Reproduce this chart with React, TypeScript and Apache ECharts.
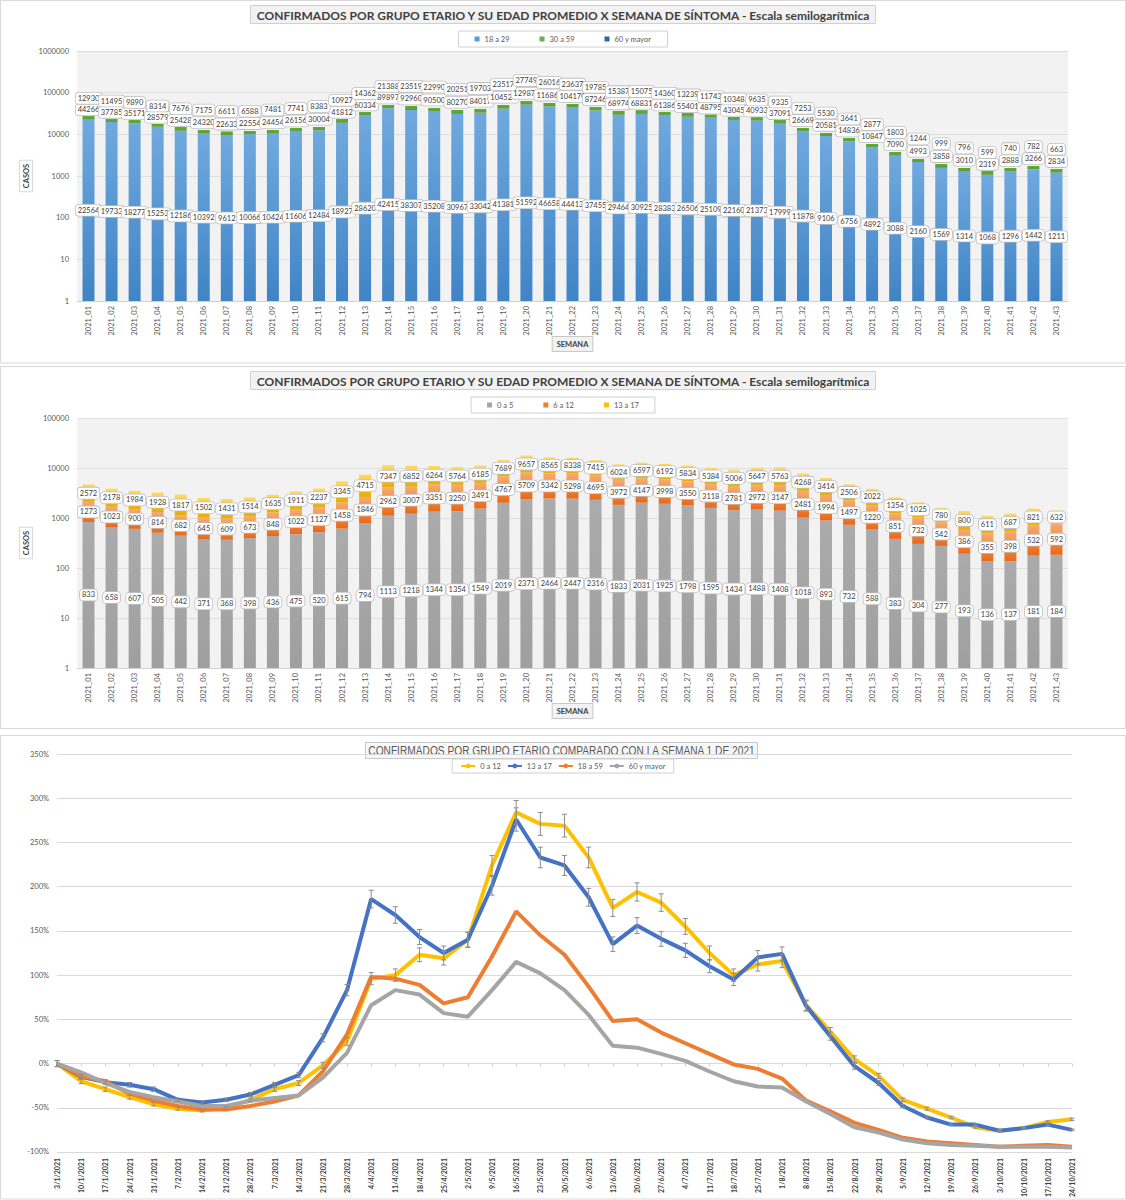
import React, { useEffect, useRef } from "react";
import * as echarts from "echarts";

const WEEKS = [
  "2021_01", "2021_02", "2021_03", "2021_04", "2021_05", "2021_06", "2021_07", "2021_08", "2021_09", "2021_10",
  "2021_11", "2021_12", "2021_13", "2021_14", "2021_15", "2021_16", "2021_17", "2021_18", "2021_19", "2021_20",
  "2021_21", "2021_22", "2021_23", "2021_24", "2021_25", "2021_26", "2021_27", "2021_28", "2021_29", "2021_30",
  "2021_31", "2021_32", "2021_33", "2021_34", "2021_35", "2021_36", "2021_37", "2021_38", "2021_39", "2021_40",
  "2021_41", "2021_42", "2021_43",
];

const DATES = [
  "3/1/2021", "10/1/2021", "17/1/2021", "24/1/2021", "31/1/2021", "7/2/2021", "14/2/2021", "21/2/2021", "28/2/2021",
  "7/3/2021", "14/3/2021", "21/3/2021", "28/3/2021", "4/4/2021", "11/4/2021", "18/4/2021", "25/4/2021", "2/5/2021",
  "9/5/2021", "16/5/2021", "23/5/2021", "30/5/2021", "6/6/2021", "13/6/2021", "20/6/2021", "27/6/2021", "4/7/2021",
  "11/7/2021", "18/7/2021", "25/7/2021", "1/8/2021", "8/8/2021", "15/8/2021", "22/8/2021", "29/8/2021", "5/9/2021",
  "12/9/2021", "19/9/2021", "26/9/2021", "3/10/2021", "10/10/2021", "17/10/2021", "24/10/2021",
];

// Chart 1
const G18_29 = [
  22564, 19733, 18277, 15253, 12186, 10392, 9612, 10066, 10424, 11606, 12484, 18927, 28620, 42415, 38307, 35208,
  30967, 33042, 41381, 51592, 46658, 44413, 37455, 29464, 30925, 28383, 26506, 25109, 22160, 21373, 17999, 11878,
  9106, 6756, 4892, 3088, 2160, 1569, 1314, 1068, 1296, 1442, 1211,
];
const G30_59 = [
  44266, 37785, 35171, 28579, 25428, 24320, 22633, 22554, 24454, 26156, 30004, 41812, 60334, 89897, 92960, 90500,
  80270, 84017, 104524, 129873, 116861, 104170, 87246, 68974, 68831, 61386, 55401, 48795, 43045, 40933, 37091, 26669,
  20581, 14836, 10847, 7090, 4993, 3858, 3010, 2319, 2888, 3266, 2834,
];
const G60 = [
  12930, 11495, 9890, 8314, 7676, 7175, 6611, 6588, 7481, 7741, 8383, 10927, 14362, 21388, 23519, 22990, 20251,
  19703, 23517, 27749, 26016, 23637, 19785, 15387, 15075, 14360, 13239, 11743, 10348, 9635, 9335, 7253, 5530, 3641,
  2877, 1803, 1244, 999, 796, 599, 740, 782, 663,
];

// Chart 2
const G0_5 = [
  833, 658, 607, 505, 442, 371, 368, 398, 436, 475, 520, 615, 794, 1113, 1218, 1344, 1354, 1549, 2019, 2371, 2464,
  2447, 2316, 1833, 2031, 1925, 1798, 1595, 1434, 1488, 1408, 1018, 893, 732, 588, 383, 304, 277, 193, 136, 137, 181,
  184,
];
const G6_12 = [
  1273, 1023, 900, 814, 682, 645, 609, 673, 848, 1022, 1127, 1458, 1846, 2962, 3007, 3351, 3250, 3491, 4767, 5709,
  5342, 5298, 4695, 3972, 4147, 3998, 3550, 3118, 2781, 2972, 3147, 2481, 1994, 1497, 1220, 851, 732, 542, 386, 355,
  398, 532, 592,
];
const G13_17 = [
  2572, 2178, 1984, 1928, 1817, 1502, 1431, 1514, 1635, 1911, 2237, 3345, 4715, 7347, 6852, 6264, 5764, 6185, 7689,
  9657, 8565, 8338, 7415, 6024, 6597, 6192, 5834, 5384, 5006, 5647, 5763, 4268, 3414, 2506, 2022, 1354, 1025, 780,
  800, 611, 687, 821, 632,
];

// Chart 3 (% vs week 1)
const L0_12 = [
  0, -20, -29, -38, -46, -51, -53, -50, -41, -29, -22, -2, 25, 96, 100, 123, 119, 140, 224, 284, 271, 269, 233, 176,
  194, 182, 155, 125, 100, 112, 116, 66, 36, 5, -14, -41, -51, -61, -72, -76, -73, -66, -63,
];
const L13_17 = [
  0, -15, -21, -24, -29, -41, -44, -41, -35, -24, -13, 29, 83, 186, 168, 143, 125, 140, 201, 276, 233, 224, 188, 135,
  156, 141, 128, 110, 95, 120, 124, 65, 31, -3, -22, -48, -61, -69, -69, -76, -73, -69, -75,
];
const L18_59 = [
  0, -14, -20, -34, -42, -48, -52, -52, -48, -43, -36, -9, 33, 98, 96, 89, 68, 75, 121, 172, 145, 123, 87, 48, 50,
  35, 23, 11, -1, -6, -17, -42, -54, -67, -75, -84, -88, -90, -92, -94, -93, -92, -94,
];
const L60 = [
  0, -10, -22, -32, -38, -43, -48, -48, -42, -39, -36, -16, 12, 66, 83, 78, 57, 53, 83, 115, 102, 83, 55, 20, 18,
  11, 3, -9, -20, -26, -27, -43, -57, -72, -78, -86, -90, -92, -93, -94, -94, -94, -95,
];
const ERR_FRACTION = 0.035; // error bar size as a share of (100% + value)

const TITLE_TOP = "CONFIRMADOS POR GRUPO ETARIO Y SU EDAD PROMEDIO X SEMANA DE SÍNTOMA - Escala semilogarítmica";
const TITLE_BOTTOM = "CONFIRMADOS POR GRUPO ETARIO COMPARADO CON LA SEMANA 1 DE 2021";

const FONT = "Lato, 'Liberation Sans', sans-serif";
const SANS = "'Liberation Sans', Arial, sans-serif";

const vGrad = (top: string, bottom: string) =>
  new echarts.graphic.LinearGradient(0, 0, 0, 1, [
    { offset: 0, color: top },
    { offset: 1, color: bottom },
  ]);

function stackSeries(
  name: string,
  idx: number,
  values: number[],
  bases: number[],
  fill: any,
  legendColor: string
) {
  return {
    type: "custom",
    name,
    xAxisIndex: idx,
    yAxisIndex: idx,
    itemStyle: { color: legendColor },
    data: values.map((v, i) => [i, bases[i] + v, bases[i], v]),
    encode: { x: 0, y: 1 },
    renderItem: (params: any, api: any) => {
      const i = api.value(0);
      const top = api.value(1);
      const base = api.value(2);
      const v = api.value(3);
      const cs = params.coordSys;
      const pTop = api.coord([i, top]);
      const yBase = base > 0 ? api.coord([i, base])[1] : cs.y + cs.height;
      const bw = api.size([1, 0])[0] * 0.52;
      return {
        type: "group",
        children: [
          {
            type: "rect",
            z2: 1,
            shape: { x: pTop[0] - bw / 2, y: pTop[1], width: bw, height: yBase - pTop[1] },
            style: { fill },
          },
          {
            type: "text",
            z2: 100,
            style: {
              text: String(v),
              x: pTop[0],
              y: (yBase + pTop[1]) / 2,
              align: "center",
              verticalAlign: "middle",
              fontSize: 7.5,
              fontFamily: FONT,
              fill: "#404040",
              backgroundColor: "#ffffff",
              borderColor: "#bfbfbf",
              borderWidth: 0.8,
              borderRadius: 3,
              padding: [2, 2, 1, 2],
            },
          },
        ],
      };
    },
  };
}

function errSeries(values: number[]) {
  return {
    type: "custom",
    name: "err",
    xAxisIndex: 2,
    yAxisIndex: 2,
    z: 4,
    data: values.map((v, i) => [i, v, ERR_FRACTION * (v + 100)]),
    encode: { x: 0, y: 1 },
    renderItem: (params: any, api: any) => {
      const i = api.value(0);
      const v = api.value(1);
      const e = api.value(2);
      const t = api.coord([i, v + e]);
      const b = api.coord([i, v - e]);
      const cw = 2.5;
      const st = { stroke: "#8c8c8c", lineWidth: 1 };
      return {
        type: "group",
        children: [
          { type: "line", shape: { x1: t[0], y1: t[1], x2: b[0], y2: b[1] }, style: st },
          { type: "line", shape: { x1: t[0] - cw, y1: t[1], x2: t[0] + cw, y2: t[1] }, style: st },
          { type: "line", shape: { x1: b[0] - cw, y1: b[1], x2: b[0] + cw, y2: b[1] }, style: st },
        ],
      };
    },
  };
}

const logYAxis = (idx: number, max: number) => ({
  type: "log",
  gridIndex: idx,
  logBase: 10,
  min: 1,
  max,
  name: "CASOS",
  nameLocation: "middle",
  nameGap: 45,
  nameMoveOverlap: false,
  nameTextStyle: {
    fontSize: 7.5,
    fontWeight: "bold",
    color: "#404040",
    fontFamily: FONT,
    backgroundColor: "#ffffff",
    borderColor: "#d9d9d9",
    borderWidth: 1,
    padding: [2, 3],
  },
  axisLine: { show: false },
  axisTick: { show: false },
  axisLabel: {
    fontSize: 7.5,
    color: "#595959",
    fontFamily: FONT,
    margin: 8,
    formatter: (v: number) => String(Math.round(v)),
  },
  splitLine: { lineStyle: { color: "#dedede", width: 1 } },
});

const catXAxis = (idx: number) => ({
  type: "category",
  gridIndex: idx,
  data: WEEKS,
  name: "SEMANA",
  nameLocation: "middle",
  nameGap: 36,
  nameMoveOverlap: false,
  nameTextStyle: {
    fontSize: 7.5,
    fontWeight: "bold",
    color: "#404040",
    fontFamily: FONT,
    backgroundColor: "#f2f2f2",
    borderColor: "#c8c8c8",
    borderWidth: 1,
    padding: [3, 4],
  },
  axisLine: { lineStyle: { color: "#d0d0d0" } },
  axisTick: { show: false },
  axisLabel: { rotate: 90, interval: 0, fontSize: 7.5, color: "#595959", fontFamily: FONT, margin: 5 },
});

export default function App() {
  const ref = useRef<HTMLDivElement>(null);

  useEffect(() => {
    document.body.style.margin = "0";
    if (!ref.current) return;
    const chart = echarts.init(ref.current, undefined, { renderer: "svg" });

    const zeros = G18_29.map(() => 0);
    const c1b3 = G18_29.map((v, i) => v + G30_59[i]);
    const c2b3 = G0_5.map((v, i) => v + G6_12[i]);

    const greenFill = new echarts.graphic.LinearGradient(0, 0, 0, 1, [
      { offset: 0, color: "rgba(98,169,58,0)" },
      { offset: 0.835, color: "rgba(98,169,58,0)" },
      { offset: 0.84, color: "#62a93a" },
      { offset: 1, color: "#5a9e33" },
    ]);

    const boxTitle = (text: string, top: number) => ({
      text,
      left: "center",
      top,
      padding: [4, 6, 3, 6],
      backgroundColor: "#f2f2f2",
      borderColor: "#d0d0d0",
      borderWidth: 1,
      textStyle: { fontFamily: FONT, fontWeight: "bold", fontSize: 12, color: "#404040" },
    });

    const boxLegend = (data: string[], top: number) => ({
      data,
      left: "center",
      top,
      icon: "rect",
      itemWidth: 5,
      itemHeight: 5,
      itemGap: 30,
      padding: [4, 16, 4, 16],
      borderColor: "#d0d0d0",
      borderWidth: 1,
      backgroundColor: "#ffffff",
      textStyle: { fontSize: 7.5, color: "#595959", fontFamily: FONT },
      selectedMode: false,
    });

    const lineSeries = (name: string, data: number[], color: string) => ({
      type: "line",
      name: "L:" + name,
      xAxisIndex: 2,
      yAxisIndex: 2,
      data,
      symbol: "none",
      itemStyle: { color },
      lineStyle: { color, width: 4 },
    });

    chart.setOption({
      animation: false,
      textStyle: { fontFamily: FONT },
      graphic: [
        { type: "rect", shape: { x: 0.5, y: 0.5, width: 1125, height: 362.5 }, style: { fill: "none", stroke: "#d9d9d9", lineWidth: 1 } },
        { type: "rect", shape: { x: 0.5, y: 366.5, width: 1125, height: 362 }, style: { fill: "none", stroke: "#d9d9d9", lineWidth: 1 } },
        { type: "rect", shape: { x: 0.5, y: 735.5, width: 1125, height: 463.5 }, style: { fill: "none", stroke: "#d9d9d9", lineWidth: 1 } },
        { type: "rect", shape: { x: 365.5, y: 742.5, width: 392, height: 16 }, style: { fill: "#f7f7f7", stroke: "#c8c8c8", lineWidth: 1 } },
        {
          type: "text",
          x: 561.5,
          y: 751,
          scaleX: 0.815,
          style: {
            text: TITLE_BOTTOM,
            x: 0,
            y: 0,
            align: "center",
            verticalAlign: "middle",
            fontSize: 12.5,
            fontFamily: SANS,
            fill: "#595959",
          },
        },
      ],
      title: [boxTitle(TITLE_TOP, 5), boxTitle(TITLE_TOP, 371)],
      legend: [
        boxLegend(["18 a 29", "30 a 59", "60 y mayor"], 31),
        boxLegend(["0 a 5", "6 a 12", "13 a 17"], 397),
        {
          data: ["L:0 a 12", "L:13 a 17", "L:18 a 59", "L:60 y mayor"],
          formatter: (n: string) => n.replace("L:", ""),
          left: "center",
          top: 759,
          itemWidth: 14,
          itemHeight: 6,
          itemGap: 6,
          padding: [3, 8, 3, 8],
          borderColor: "#d0d0d0",
          borderWidth: 1,
          backgroundColor: "#ffffff",
          textStyle: { fontSize: 7.5, color: "#595959", fontFamily: FONT },
          selectedMode: false,
        },
      ],
      grid: [
        { left: 77, top: 51, width: 991, height: 250, show: true, backgroundColor: "#f2f2f2", borderWidth: 0 },
        { left: 77, top: 418, width: 991, height: 250, show: true, backgroundColor: "#f2f2f2", borderWidth: 0 },
        { left: 57, top: 754, width: 1015, height: 401 },
      ],
      xAxis: [
        catXAxis(0),
        catXAxis(1),
        {
          type: "category",
          gridIndex: 2,
          data: DATES,
          boundaryGap: false,
          axisLine: { show: false },
          axisTick: { show: true, length: 3, lineStyle: { color: "#d0d0d0" } },
          axisLabel: { rotate: 90, interval: 0, fontSize: 7, fontWeight: "bold", color: "#404040", fontFamily: FONT, margin: 6 },
        },
      ],
      yAxis: [
        logYAxis(0, 1000000),
        logYAxis(1, 100000),
        {
          type: "value",
          gridIndex: 2,
          min: -100,
          max: 350,
          interval: 50,
          axisLine: { show: false },
          axisTick: { show: false },
          axisLabel: { formatter: "{value}%", fontSize: 7.5, color: "#595959", fontFamily: FONT, margin: 8 },
          splitLine: { lineStyle: { color: "#d9d9d9", width: 1 } },
        },
      ],
      series: [
        stackSeries("18 a 29", 0, G18_29, zeros, vGrad("#70a9de", "#4084c6"), "#5b9bd5"),
        stackSeries("30 a 59", 0, G30_59, G18_29, greenFill, "#70ad47"),
        stackSeries("60 y mayor", 0, G60, c1b3, "rgba(0,0,0,0)", "#2e64a8"),
        stackSeries("0 a 5", 1, G0_5, zeros, vGrad("#ababab", "#9f9f9f"), "#a5a5a5"),
        stackSeries("6 a 12", 1, G6_12, G0_5, vGrad("#f7ab72", "#e8681a"), "#ed7d31"),
        stackSeries("13 a 17", 1, G13_17, c2b3, vGrad("#ffd964", "#e6ae00"), "#ffc000"),
        lineSeries("0 a 12", L0_12, "#ffc000"),
        lineSeries("13 a 17", L13_17, "#4472c4"),
        lineSeries("18 a 59", L18_59, "#ed7d31"),
        lineSeries("60 y mayor", L60, "#a5a5a5"),
        errSeries(L0_12),
        errSeries(L13_17),
      ],
    });

    return () => chart.dispose();
  }, []);

  return <div ref={ref} style={{ width: 1126, height: 1200 }} />;
}
